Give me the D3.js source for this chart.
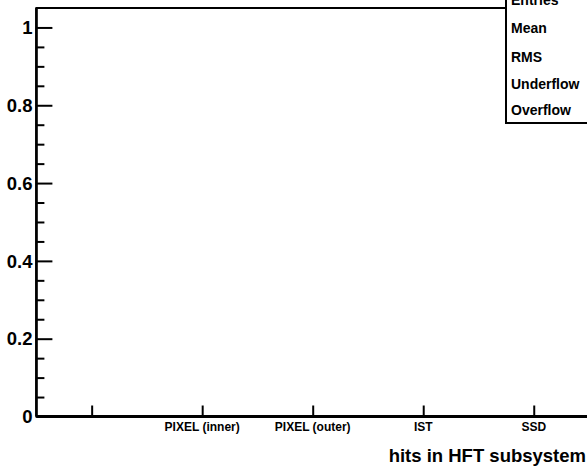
<!DOCTYPE html>
<html><head><meta charset="utf-8">
<script src="https://cdn.jsdelivr.net/npm/d3@7/dist/d3.min.js"></script>
<style>html,body{margin:0;padding:0;background:#fff;}svg{display:block;font-family:"Liberation Sans",Arial,sans-serif;font-weight:bold;}</style>
</head><body>
<svg id="c" width="587" height="467"></svg>
<script>
const categories = ["", "PIXEL (inner)", "PIXEL (outer)", "IST", "SSD"];
const values = [0, 0, 0, 0, 0];
const yTicks = [0, 0.2, 0.4, 0.6, 0.8, 1];
const yMinorTicks = d3.range(0, 1.0001, 0.05).map(v => +v.toFixed(2));
const statLabels = ["Entries", "Mean", "RMS", "Underflow", "Overflow"];
const xTitle = "hits in HFT subsystem";

const svg = d3.select("#c");
const L = 36.4, R = 589, T = 8, B = 416.5;
const x = d3.scaleLinear().domain([0, categories.length]).range([L, R]);
const y = d3.scaleLinear().domain([0, 1.05]).range([B, T]);

// frame
svg.append("rect").attr("x", L).attr("y", T).attr("width", R - L).attr("height", B - T)
  .attr("fill", "none").attr("stroke", "#000").attr("stroke-width", 2);
svg.append("line").attr("x1", L).attr("x2", L).attr("y1", T).attr("y2", B)
  .attr("stroke", "#000").attr("stroke-width", 2.6);

// histogram (empty)
const pts = [];
values.forEach((v, i) => { pts.push([x(i), y(v)]); pts.push([x(i + 1), y(v)]); });
svg.append("path").attr("d", d3.line()(pts)).attr("fill", "none").attr("stroke", "#000").attr("stroke-width", 3);

// y axis
const yAxis = d3.axisRight(y).tickValues(yTicks).tickSize(16).tickFormat("");
const gy = svg.append("g").attr("transform", `translate(${L},0)`).call(yAxis);
gy.select(".domain").remove();
gy.selectAll("line").attr("stroke-width", 2);
const yMinor = d3.axisRight(y).tickValues(yMinorTicks.filter(v => !yTicks.some(t => Math.abs(t - v) < 1e-6))).tickSize(8).tickFormat("");
const gym = svg.append("g").attr("transform", `translate(${L},0)`).call(yMinor);
gym.select(".domain").remove();
gym.selectAll("line").attr("stroke-width", 2);
svg.append("g").selectAll("text").data(yTicks).join("text")
  .attr("x", 32.5).attr("y", d => y(d)).attr("dy", "0.36em")
  .attr("text-anchor", "end").attr("font-size", 18.5).text(d => d3.format("~g")(d));

// x axis ticks at bin centers
const xAxis = d3.axisTop(x).tickValues(categories.map((c, i) => i + 0.5)).tickSize(11).tickFormat("");
const gx = svg.append("g").attr("transform", `translate(0,${B})`).call(xAxis);
gx.select(".domain").remove();
gx.selectAll("line").attr("stroke-width", 2);
svg.append("g").selectAll("text").data(categories).join("text")
  .attr("x", (d, i) => x(i + 0.5)).attr("y", 431)
  .attr("text-anchor", "middle").attr("font-size", 12).text(d => d);

svg.append("text").attr("x", 586).attr("y", 462).attr("text-anchor", "end")
  .attr("font-size", 18.5).text(xTitle);

// stats box
svg.append("rect").attr("x", 506).attr("y", -20).attr("width", 120).attr("height", 143)
  .attr("fill", "#fff").attr("stroke", "#000").attr("stroke-width", 2);
const statY = [5, 32.5, 61.5, 89, 114.5];
svg.append("g").selectAll("text").data(statLabels).join("text")
  .attr("x", 511).attr("y", (d, i) => statY[i]).attr("font-size", 14).text(d => d);
</script>
</body></html>
